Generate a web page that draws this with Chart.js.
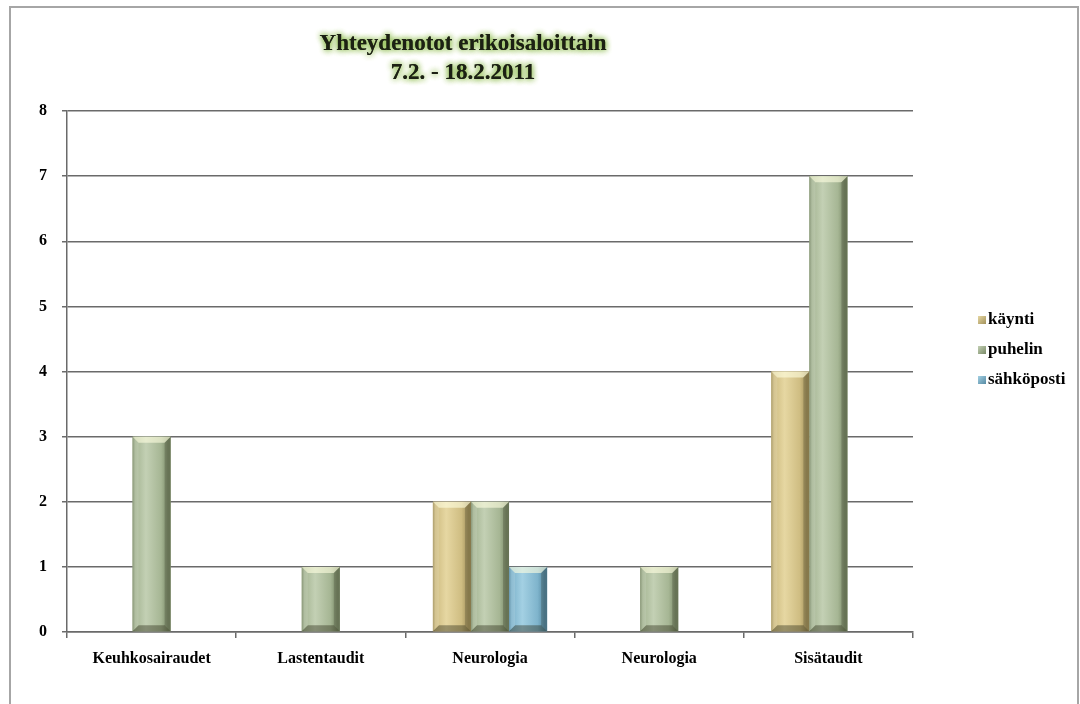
<!DOCTYPE html>
<html>
<head>
<meta charset="utf-8">
<script src="https://cdn.jsdelivr.net/npm/chart.js@4.4.1/dist/chart.umd.min.js"></script>
<style>
    html, body { margin: 0; padding: 0; background: #fff; }
    #frame { position: absolute; left: 9px; top: 6px; width: 1066px; height: 720px; border: 2px solid #a6a6a6; }
    #wrap { position: absolute; left: 0; top: 0; width: 1080px; height: 704px; }
</style>
</head>
<body>
<div id="frame"></div>
<div id="wrap"><canvas id="chart" width="1080" height="704"></canvas></div>
<script>
// Contacts by specialty, 7.2. - 18.2.2011
const categories = ["Keuhkosairaudet", "Lastentaudit", "Neurologia", "Neurologia", "Sisätaudit"];
const seriesNames = ["käynti", "puhelin", "sähköposti"];
const kaynti = [0, 0, 2, 0, 4];
const puhelin = [3, 1, 2, 1, 7];
const sahkoposti = [0, 0, 1, 0, 0];
const yMin = 0;
const yMax = 8;
const yStep = 1;
const titleLines = ["Yhteydenotot erikoisaloittain", "7.2. - 18.2.2011"];

const FONT = '"Liberation Serif", "Times New Roman", serif';

// light / mid / dark shades for the bevelled bars
const palettes = [
    ["#e6d7a2", "#cfbd82", "#a3925c"],
    ["#c3d0b4", "#a6b694", "#7b8b68"],
    ["#a3d0e3", "#7fb4cc", "#568aa3"]
];

// Paints a bevelled, glassy look over each bar using the element geometry
const bevelPlugin = {
    id: "bevel",
    afterDatasetsDraw(chart) {
        const ctx = chart.ctx;
        chart.data.datasets.forEach((ds, i) => {
            const meta = chart.getDatasetMeta(i);
            const [light, mid, dark] = palettes[i];
            meta.data.forEach(bar => {
                const { x, y, base, width } = bar.getProps(["x", "y", "base", "width"], true);
                const h = base - y;
                if (h < 1) return;
                const l = x - width / 2, r = x + width / 2;
                ctx.save();
                const g = ctx.createLinearGradient(l, 0, r, 0);
                g.addColorStop(0, dark);
                g.addColorStop(0.07, mid);
                g.addColorStop(0.35, light);
                g.addColorStop(0.75, mid);
                g.addColorStop(0.93, dark);
                g.addColorStop(1, dark);
                ctx.fillStyle = g;
                ctx.fillRect(l, y, width, h);
                const bv = Math.min(6, h / 3);
                // top bevel
                ctx.beginPath();
                ctx.moveTo(l, y); ctx.lineTo(r, y); ctx.lineTo(r - bv, y + bv); ctx.lineTo(l + bv, y + bv); ctx.closePath();
                ctx.fillStyle = "rgba(255,255,225,0.6)";
                ctx.fill();
                // bottom bevel
                ctx.beginPath();
                ctx.moveTo(l, base); ctx.lineTo(r, base); ctx.lineTo(r - bv, base - bv); ctx.lineTo(l + bv, base - bv); ctx.closePath();
                ctx.fillStyle = "rgba(40,40,20,0.4)";
                ctx.fill();
                // left bevel
                ctx.beginPath();
                ctx.moveTo(l, y); ctx.lineTo(l + bv, y + bv); ctx.lineTo(l + bv, base - bv); ctx.lineTo(l, base); ctx.closePath();
                ctx.fillStyle = "rgba(255,255,255,0.12)";
                ctx.fill();
                // right bevel
                ctx.beginPath();
                ctx.moveTo(r, y); ctx.lineTo(r - bv, y + bv); ctx.lineTo(r - bv, base - bv); ctx.lineTo(r, base); ctx.closePath();
                ctx.fillStyle = "rgba(30,30,20,0.22)";
                ctx.fill();
                ctx.restore();
            });
        });
    }
};

// Title with a green glow
const glowTitle = {
    id: "glowTitle",
    afterDraw(chart) {
        const ctx = chart.ctx;
        ctx.save();
        ctx.font = "bold 23px " + FONT;
        ctx.textAlign = "center";
        ctx.textBaseline = "middle";
        ctx.shadowColor = "rgba(130,180,60,1)";
        ctx.shadowBlur = 6;
        ctx.fillStyle = "#1c2014";
        for (let pass = 0; pass < 2; pass++) {
            titleLines.forEach((t, i) => ctx.fillText(t, 463, 44 + i * 29));
        }
        ctx.restore();
    }
};

// Legend on the right, built from the datasets
const sideLegend = {
    id: "sideLegend",
    afterDraw(chart) {
        const ctx = chart.ctx;
        ctx.save();
        ctx.font = "bold 17px " + FONT;
        ctx.textBaseline = "middle";
        chart.data.datasets.forEach((ds, i) => {
            const cy = 320 + i * 30;
            const [light, mid, dark] = palettes[i];
            const g = ctx.createLinearGradient(978, cy - 4, 986, cy + 4);
            g.addColorStop(0, light);
            g.addColorStop(1, dark);
            ctx.fillStyle = g;
            ctx.fillRect(978, cy - 4, 8, 8);
            ctx.fillStyle = "#000";
            ctx.fillText(ds.label, 988, cy);
        });
        ctx.restore();
    }
};

const seriesData = [kaynti, puhelin, sahkoposti];

new Chart(document.getElementById("chart").getContext("2d"), {
    type: "bar",
    data: {
        labels: categories,
        datasets: seriesNames.map((name, i) => ({
            label: name,
            data: seriesData[i],
            backgroundColor: palettes[i][1],
            borderWidth: 0,
            categoryPercentage: 0.675,
            barPercentage: 1
        }))
    },
    options: {
        responsive: false,
        animation: false,
        layout: { padding: { top: 111, right: 167, left: 0, bottom: 0 } },
        plugins: {
            legend: { display: false },
            title: { display: false },
            tooltip: { enabled: false }
        },
        scales: {
            x: {
                grid: { display: true, drawOnChartArea: false, drawTicks: true, tickLength: 6, offset: true, color: "#6a6a6a", lineWidth: 1.5 },
                border: { display: true, color: "#6a6a6a", width: 1.5 },
                ticks: { color: "#000", font: { family: FONT, size: 16, weight: "bold" }, padding: 11, maxRotation: 0 },
                afterFit: scale => { scale.height = 72; }
            },
            y: {
                min: yMin,
                max: yMax,
                grid: { color: "#6a6a6a", lineWidth: 1.5, tickLength: 5 },
                border: { display: true, color: "#6a6a6a", width: 1.5 },
                ticks: { stepSize: yStep, color: "#000", font: { family: FONT, size: 16, weight: "bold" }, padding: 15 },
                afterFit: scale => { scale.width = 67; }
            }
        }
    },
    plugins: [bevelPlugin, glowTitle, sideLegend]
});
</script>
</body>
</html>
